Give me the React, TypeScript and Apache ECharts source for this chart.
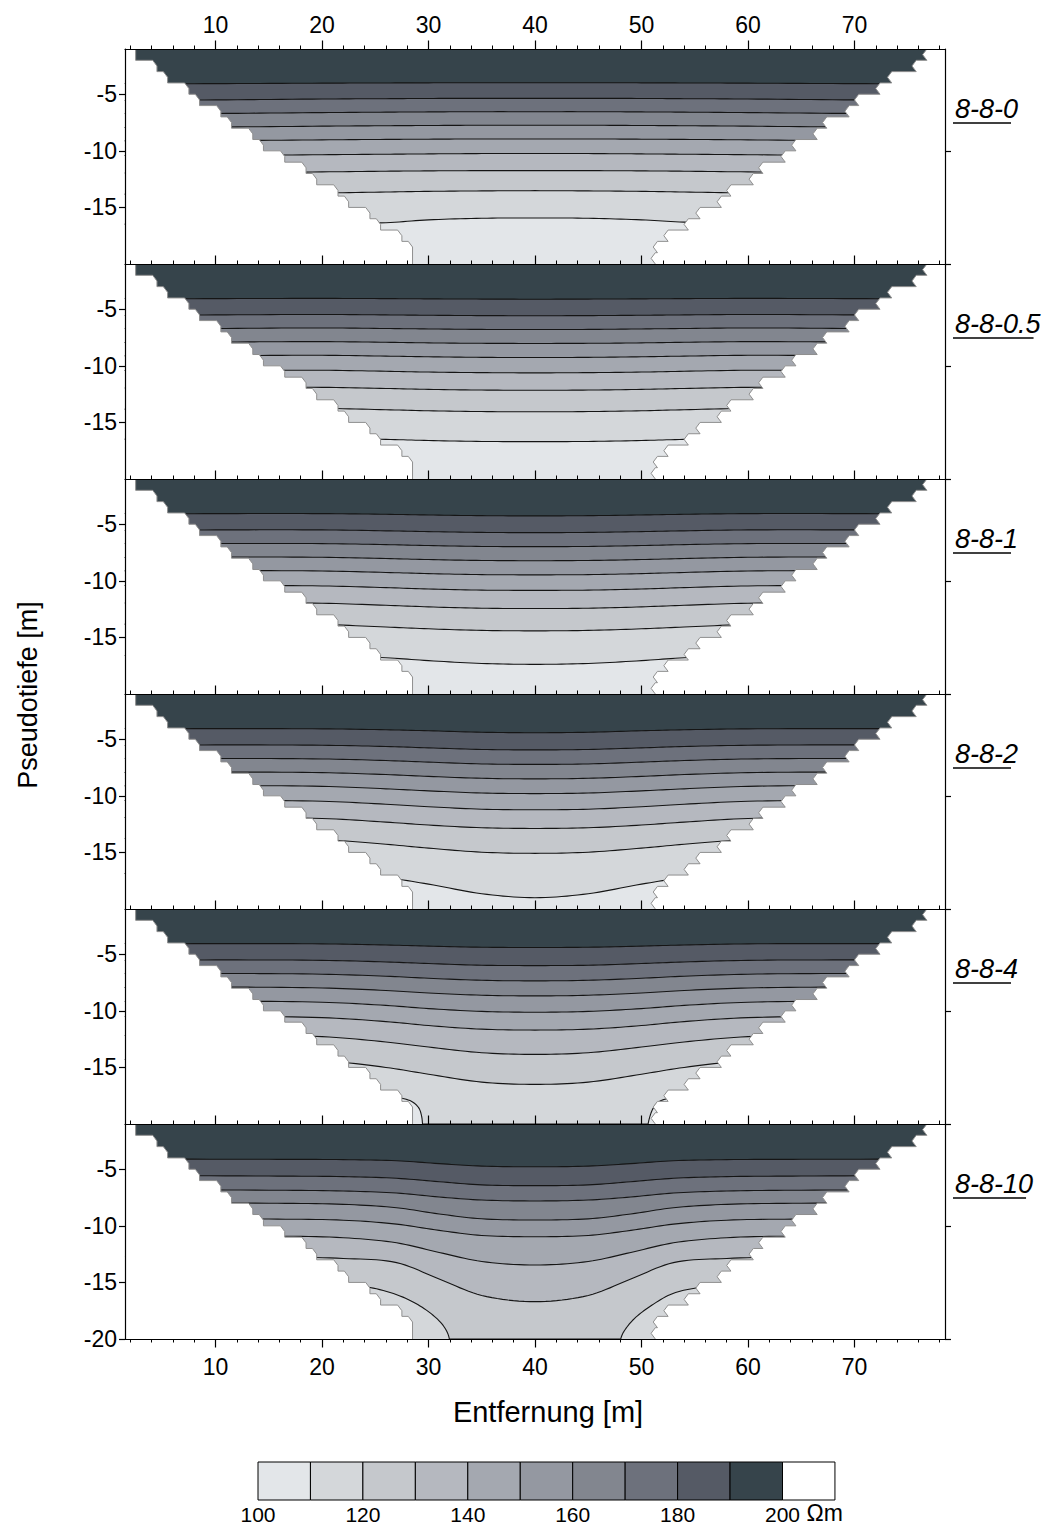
import React, { useEffect, useRef } from "react";
import * as echarts from "echarts";

const FONT = "'Liberation Sans', Arial, Helvetica, sans-serif";

// ---------------- data ----------------
const panelNames = ["8-8-0", "8-8-0.5", "8-8-1", "8-8-2", "8-8-4", "8-8-10"];
const bandColors = ["#e3e6e9", "#d4d7da", "#c5c8cc", "#b5b8bf", "#a4a8b0", "#9498a1", "#82868f", "#6d717c", "#555a65", "#36444b", "#ffffff"];
const bandStart = [100, 110, 120, 130, 140, 150, 160, 170, 180, 190, 200];
const colorbarLabels = ["100", "120", "140", "160", "180", "200"];
const unitLabel = "Ωm";
const xRange = [1.5, 78.5];
const yRange = [-20, -1];
const xMajorTicks = [10, 20, 30, 40, 50, 60, 70];
const xMinorTicks = [2, 4, 6, 8, 12, 14, 16, 18, 22, 24, 26, 28, 32, 34, 36, 38, 42, 44, 46, 48, 52, 54, 56, 58, 62, 64, 66, 68, 72, 74, 76, 78];
const yTickValues = [-5, -10, -15];
const yTickValuesLast = [-5, -10, -15, -20];
const yRightTicks = [-10, -20];

// data hull (blanking) of the pseudosection
const hullLeftX = [2.5, 4.5, 5.5, 7.5, 8.5, 10.5, 11.5, 13.5, 14.5, 16.5, 18.5, 19.5, 21.5, 22.5, 24.5, 25.5, 27.5, 28.5];
const hullLeftDepth = [-1, -2, -3, -4, -5, -6, -7, -8, -9, -10, -11, -12, -13, -14, -15, -16, -17, -18, -20];
const hullRightX = [76.4, 75.4, 73.1, 72.0, 70.0, 69.1, 67.0, 66.1, 64.1, 63.1, 61.0, 60.1, 58.0, 57.1, 55.1, 54.0, 52.1, 51.1, 50.9];
const hullRightDepth = [-1, -2, -3, -4, -5, -6, -7, -8, -9, -10, -11, -12, -13, -14, -15, -16, -17, -18, -19, -20];

// contour lines (depth at sample distances), levels low -> high
const levelsAll = [110, 120, 130, 140, 150, 160, 170, 180, 190];
const xsA = [0, 10, 20, 26, 30, 35, 40, 45, 50, 54, 60, 70, 80];
const xsB = [0, 15, 22, 27, 31, 35, 40, 45, 49, 53, 58, 65, 80];

const p1Depths = [
  [-16.5, -16.48, -16.45, -16.35, -16.1, -15.96, -15.93, -15.96, -16.1, -16.3, -16.4, -16.45, -16.5],
  [-13.85, -13.8, -13.72, -13.64, -13.58, -13.54, -13.52, -13.54, -13.58, -13.64, -13.72, -13.8, -13.85],
  [-11.98, -11.94, -11.86, -11.8, -11.77, -11.75, -11.75, -11.75, -11.77, -11.8, -11.86, -11.94, -11.98],
  [-10.45, -10.42, -10.34, -10.3, -10.27, -10.24, -10.23, -10.24, -10.27, -10.3, -10.34, -10.42, -10.45],
  [-9.15, -9.1, -9.03, -8.99, -8.97, -8.95, -8.95, -8.95, -8.97, -8.99, -9.03, -9.1, -9.15],
  [-7.95, -7.9, -7.82, -7.78, -7.76, -7.74, -7.74, -7.74, -7.76, -7.78, -7.82, -7.9, -7.95],
  [-6.75, -6.7, -6.62, -6.58, -6.56, -6.54, -6.54, -6.54, -6.56, -6.58, -6.62, -6.7, -6.75],
  [-5.55, -5.5, -5.42, -5.39, -5.37, -5.36, -5.36, -5.36, -5.37, -5.39, -5.42, -5.5, -5.55],
  [-4.1, -4.06, -4.02, -4.0, -3.99, -3.98, -3.98, -3.98, -3.99, -4.0, -4.02, -4.06, -4.1],
];
const p2Depths = [
  [-16.5, -16.48, -16.45, -16.5, -16.6, -16.68, -16.7, -16.68, -16.6, -16.5, -16.45, -16.48, -16.5],
  [-13.85, -13.8, -13.76, -13.88, -13.97, -14.04, -14.06, -14.04, -13.97, -13.88, -13.76, -13.8, -13.85],
  [-11.98, -11.94, -11.9, -12.0, -12.08, -12.14, -12.16, -12.14, -12.08, -12.0, -11.9, -11.94, -11.98],
  [-10.45, -10.42, -10.39, -10.48, -10.55, -10.6, -10.62, -10.6, -10.55, -10.48, -10.39, -10.42, -10.45],
  [-9.15, -9.1, -9.07, -9.14, -9.2, -9.25, -9.26, -9.25, -9.2, -9.14, -9.07, -9.1, -9.15],
  [-7.95, -7.9, -7.86, -7.92, -7.97, -8.01, -8.02, -8.01, -7.97, -7.92, -7.86, -7.9, -7.95],
  [-6.75, -6.7, -6.65, -6.7, -6.74, -6.78, -6.79, -6.78, -6.74, -6.7, -6.65, -6.7, -6.75],
  [-5.55, -5.5, -5.46, -5.5, -5.53, -5.56, -5.57, -5.56, -5.53, -5.5, -5.46, -5.5, -5.55],
  [-4.1, -4.06, -4.04, -4.06, -4.08, -4.1, -4.11, -4.1, -4.08, -4.06, -4.04, -4.06, -4.1],
];
const p3Depths = [
  [-16.6, -16.58, -16.6, -16.8, -17.05, -17.3, -17.38, -17.3, -17.05, -16.8, -16.6, -16.58, -16.6],
  [-13.85, -13.8, -13.86, -14.08, -14.24, -14.38, -14.42, -14.38, -14.24, -14.08, -13.86, -13.8, -13.85],
  [-11.98, -11.94, -11.98, -12.16, -12.3, -12.42, -12.45, -12.42, -12.3, -12.16, -11.98, -11.94, -11.98],
  [-10.45, -10.42, -10.45, -10.6, -10.72, -10.82, -10.84, -10.82, -10.72, -10.6, -10.45, -10.42, -10.45],
  [-9.15, -9.1, -9.13, -9.26, -9.36, -9.45, -9.47, -9.45, -9.36, -9.26, -9.13, -9.1, -9.15],
  [-7.95, -7.9, -7.92, -8.03, -8.12, -8.2, -8.22, -8.2, -8.12, -8.03, -7.92, -7.9, -7.95],
  [-6.75, -6.7, -6.71, -6.8, -6.88, -6.96, -6.98, -6.96, -6.88, -6.8, -6.71, -6.7, -6.75],
  [-5.55, -5.5, -5.5, -5.58, -5.65, -5.72, -5.74, -5.72, -5.65, -5.58, -5.5, -5.5, -5.55],
  [-4.1, -4.06, -4.06, -4.12, -4.18, -4.24, -4.26, -4.24, -4.18, -4.12, -4.06, -4.06, -4.1],
];
const p4Depths = [
  [-16.9, -16.85, -16.95, -17.25, -17.8, -18.65, -19.0, -18.65, -17.8, -17.25, -16.95, -16.85, -16.9],
  [-13.8, -13.76, -13.86, -14.28, -14.62, -14.98, -15.08, -14.98, -14.62, -14.28, -13.86, -13.76, -13.8],
  [-11.95, -11.92, -12.0, -12.32, -12.58, -12.82, -12.88, -12.82, -12.58, -12.32, -12.0, -11.92, -11.95],
  [-10.45, -10.4, -10.48, -10.74, -10.96, -11.18, -11.23, -11.18, -10.96, -10.74, -10.48, -10.4, -10.45],
  [-9.15, -9.1, -9.16, -9.38, -9.56, -9.75, -9.8, -9.75, -9.56, -9.38, -9.16, -9.1, -9.15],
  [-7.95, -7.9, -7.95, -8.12, -8.28, -8.45, -8.5, -8.45, -8.28, -8.12, -7.95, -7.9, -7.95],
  [-6.75, -6.7, -6.74, -6.88, -7.02, -7.18, -7.22, -7.18, -7.02, -6.88, -6.74, -6.7, -6.75],
  [-5.55, -5.5, -5.53, -5.64, -5.76, -5.9, -5.94, -5.9, -5.76, -5.64, -5.53, -5.5, -5.55],
  [-4.1, -4.06, -4.08, -4.16, -4.25, -4.38, -4.42, -4.38, -4.25, -4.16, -4.08, -4.06, -4.1],
];
const p5Levels = [120, 130, 140, 150, 160, 170, 180, 190];
const p5Depths = [
  [-14.3, -14.25, -14.4, -15.0, -15.6, -16.3, -16.5, -16.3, -15.6, -15.0, -14.4, -14.25, -14.3],
  [-12.2, -12.15, -12.28, -12.75, -13.2, -13.7, -13.85, -13.7, -13.2, -12.75, -12.28, -12.15, -12.2],
  [-10.55, -10.5, -10.6, -10.95, -11.3, -11.62, -11.7, -11.62, -11.3, -10.95, -10.6, -10.5, -10.55],
  [-9.2, -9.15, -9.24, -9.52, -9.8, -10.05, -10.12, -10.05, -9.8, -9.52, -9.24, -9.15, -9.2],
  [-7.95, -7.9, -7.98, -8.2, -8.42, -8.62, -8.68, -8.62, -8.42, -8.2, -7.98, -7.9, -7.95],
  [-6.75, -6.7, -6.76, -6.94, -7.12, -7.3, -7.35, -7.3, -7.12, -6.94, -6.76, -6.7, -6.75],
  [-5.55, -5.5, -5.54, -5.68, -5.82, -5.97, -6.0, -5.97, -5.82, -5.68, -5.54, -5.5, -5.55],
  [-4.1, -4.06, -4.08, -4.18, -4.28, -4.38, -4.4, -4.38, -4.28, -4.18, -4.08, -4.06, -4.1],
];
const p5Corner110 = [
  [0, -17.3], [15, -17.35], [22, -17.45], [26, -17.6], [27.6, -17.75], [28.5, -18.05], [29.1, -18.6], [29.35, -19.3],
  [29.45, -20.1], [29.6, -21.5], [40, -22], [50.4, -21.5], [50.6, -20.1], [50.8, -19.3], [51.1, -18.6], [51.6, -18.05],
  [52.5, -17.75], [54, -17.6], [58, -17.45], [65, -17.35], [80, -17.3],
];
const p6Levels = [130, 140, 150, 160, 170, 180, 190];
const p6Depths = [
  [-12.7, -12.75, -12.88, -13.25, -14.7, -16.15, -16.7, -16.15, -14.7, -13.25, -12.88, -12.75, -12.7],
  [-10.85, -10.9, -11.05, -11.5, -12.35, -13.15, -13.46, -13.15, -12.35, -11.5, -11.05, -10.9, -10.85],
  [-9.35, -9.4, -9.5, -9.85, -10.4, -10.85, -10.96, -10.85, -10.4, -9.85, -9.5, -9.4, -9.35],
  [-7.95, -8.0, -8.1, -8.4, -8.95, -9.38, -9.48, -9.38, -8.95, -8.4, -8.1, -8.0, -7.95],
  [-6.8, -6.85, -6.92, -7.1, -7.45, -7.72, -7.8, -7.72, -7.45, -7.1, -6.92, -6.85, -6.8],
  [-5.55, -5.6, -5.65, -5.8, -6.1, -6.38, -6.45, -6.38, -6.1, -5.8, -5.65, -5.6, -5.55],
  [-4.1, -4.12, -4.15, -4.25, -4.5, -4.72, -4.78, -4.72, -4.5, -4.25, -4.15, -4.12, -4.1],
];
const p6Corner120 = [
  [0, -15.2], [15, -15.25], [22, -15.3], [24.5, -15.45], [27.6, -16.3], [29.8, -17.45], [31.2, -18.6], [31.8, -19.5],
  [32.0, -20.2], [32.2, -21.5], [40, -22], [47.8, -21.5], [48.0, -20.2], [48.25, -19.5], [49.2, -18.32], [50.76, -17.15],
  [52.96, -15.97], [55.5, -15.45], [58, -15.3], [65, -15.25], [80, -15.2],
];

// ---------------- layout constants ----------------
const GRID_LEFT = 125;
const GRID_WIDTH = 820;
const TOP0 = 49;
const PANEL_H = 215;
const TICK_FONT = 23;

// ---------------- helpers ----------------
const zipLine = (xs: number[], ds: number[]) => xs.map((x, i) => [x, ds[i]]);

const panels = [
  { base: 0, lines: levelsAll.map((lv, i) => ({ level: lv, pts: zipLine(xsA, p1Depths[i]) })) },
  { base: 0, lines: levelsAll.map((lv, i) => ({ level: lv, pts: zipLine(xsA, p2Depths[i]) })) },
  { base: 0, lines: levelsAll.map((lv, i) => ({ level: lv, pts: zipLine(xsA, p3Depths[i]) })) },
  { base: 0, lines: levelsAll.map((lv, i) => ({ level: lv, pts: zipLine(xsA, p4Depths[i]) })) },
  { base: 0, lines: [{ level: 110, pts: p5Corner110 }, ...p5Levels.map((lv, i) => ({ level: lv, pts: zipLine(xsA, p5Depths[i]) }))] },
  { base: 1, lines: [{ level: 120, pts: p6Corner120 }, ...p6Levels.map((lv, i) => ({ level: lv, pts: zipLine(xsB, p6Depths[i]) }))] },
];

function leftHullPts() {
  const pts: number[][] = [[hullLeftX[0], hullLeftDepth[0]]];
  for (let k = 0; k < hullLeftX.length; k++) {
    const x = hullLeftX[k];
    const top = hullLeftDepth[k];
    const bot = hullLeftDepth[k + 1];
    if (k > 0) {
      pts.push([x - 0.4, top]);
      pts.push([x, top - 0.5]);
    }
    pts.push([x, bot]);
  }
  return pts;
}
function rightHullPts() {
  const pts: number[][] = [];
  for (let k = 0; k < hullRightX.length; k++) {
    const r = hullRightX[k];
    const top = hullRightDepth[k];
    const bot = hullRightDepth[k + 1];
    pts.push([r + 0.4, top]);
    pts.push([r, (top + bot) / 2]);
    pts.push([r + 0.4, bot]);
  }
  return pts;
}
const leftHull = leftHullPts();
const rightHull = rightHullPts();

function lerp(a: number[], b: number[], ta: number, tb: number, t: number) {
  const u = (tb - t) / (tb - ta);
  const v = (t - ta) / (tb - ta);
  return [a[0] * u + b[0] * v, a[1] * u + b[1] * v];
}
function smooth(pts: number[][], seg = 10) {
  if (pts.length < 3) return pts;
  const d = (a: number[], b: number[]) => Math.max(Math.sqrt(Math.hypot(b[0] - a[0], b[1] - a[1])), 1e-4);
  const out: number[][] = [pts[0]];
  for (let i = 0; i < pts.length - 1; i++) {
    const p1 = pts[i];
    const p2 = pts[i + 1];
    const p0 = i > 0 ? pts[i - 1] : [2 * p1[0] - p2[0], 2 * p1[1] - p2[1]];
    const p3 = i + 2 < pts.length ? pts[i + 2] : [2 * p2[0] - p1[0], 2 * p2[1] - p1[1]];
    const t0 = 0;
    const t1 = t0 + d(p0, p1);
    const t2 = t1 + d(p1, p2);
    const t3 = t2 + d(p2, p3);
    for (let k = 1; k <= seg; k++) {
      const t = t1 + ((t2 - t1) * k) / seg;
      const A1 = lerp(p0, p1, t0, t1, t);
      const A2 = lerp(p1, p2, t1, t2, t);
      const A3 = lerp(p2, p3, t2, t3, t);
      const B1 = lerp(A1, A2, t0, t2, t);
      const B2 = lerp(A2, A3, t1, t3, t);
      out.push(lerp(B1, B2, t1, t2, t));
    }
  }
  return out;
}

function makeRenderItem(panel: any) {
  return (params: any, api: any) => {
    const cs = params.coordSys;
    const x0 = cs.x;
    const y0 = cs.y;
    const x1 = cs.x + cs.width;
    const y1 = cs.y + cs.height;
    const clamp = (p: number[]) => [Math.min(x1, Math.max(x0, p[0])), Math.min(y1, Math.max(y0, p[1]))];
    const px = (p: number[]) => api.coord(p);
    const children: any[] = [];
    children.push({ type: "rect", shape: { x: x0, y: y0, width: cs.width, height: cs.height }, style: { fill: bandColors[panel.base] } });
    const sorted = [...panel.lines].sort((a: any, b: any) => a.level - b.level);
    const curves = sorted.map((l: any) => smooth(l.pts.map(px)).map(clamp));
    sorted.forEach((l: any, idx: number) => {
      const c = curves[idx];
      const ci = bandStart.indexOf(l.level);
      children.push({ type: "polygon", shape: { points: [...c, [x1, y0], [x0, y0]] }, style: { fill: bandColors[ci] } });
    });
    curves.forEach((c: number[][]) => {
      children.push({ type: "polyline", shape: { points: c }, style: { stroke: "#151515", lineWidth: 1.1, fill: "none" } });
    });
    const L = leftHull.map(px).map(clamp);
    const R = rightHull.map(px).map(clamp);
    children.push({ type: "polygon", shape: { points: [[x0, y0], ...L, [x0, y1]] }, style: { fill: "#ffffff" } });
    children.push({ type: "polygon", shape: { points: [[x1, y0], ...R, [x1, y1]] }, style: { fill: "#ffffff" } });
    children.push({ type: "polyline", shape: { points: L }, style: { stroke: "#8f8f8f", lineWidth: 1, fill: "none" } });
    children.push({ type: "polyline", shape: { points: R }, style: { stroke: "#8f8f8f", lineWidth: 1, fill: "none" } });
    return { type: "group", children };
  };
}

const axisLineStyle = { color: "#000", width: 1.2 };
const labelStyle = { fontSize: TICK_FONT, color: "#000", fontFamily: FONT };

function mainXAxis(i: number, position: string, inside: boolean, showLabel: boolean) {
  return {
    type: "value", gridIndex: i, position, min: xRange[0], max: xRange[1], z: 10,
    axisLine: { show: true, onZero: false, lineStyle: axisLineStyle },
    axisTick: { show: true, inside, length: 8.5, customValues: xMajorTicks, lineStyle: { color: "#000", width: 1.2 } },
    axisLabel: { show: showLabel, customValues: xMajorTicks, margin: position === "top" ? 13 : 16, ...labelStyle },
    splitLine: { show: false },
  };
}
function minorXAxis(i: number, position: string, inside: boolean) {
  return {
    type: "value", gridIndex: i, position, min: xRange[0], max: xRange[1], z: 10,
    axisLine: { show: false, onZero: false },
    axisTick: { show: true, inside, length: 3.5, customValues: xMinorTicks, lineStyle: { color: "#000", width: 1 } },
    axisLabel: { show: false },
    splitLine: { show: false },
  };
}

export default function App() {
  const ref = useRef<HTMLDivElement>(null);
  useEffect(() => {
    document.body.style.margin = "0";
    if (!ref.current) return;
    const chart = echarts.init(ref.current, undefined, { renderer: "svg" });
    const tops = panels.map((_, i) => TOP0 + i * PANEL_H);

    const xAxis: any[] = [];
    panels.forEach((_, i) => xAxis.push(mainXAxis(i, "bottom", i < 5, i === 5)));
    panels.forEach((_, i) => xAxis.push(minorXAxis(i, "bottom", i < 5)));
    xAxis.push(mainXAxis(0, "top", false, true));
    xAxis.push(minorXAxis(0, "top", false));

    const yAxis: any[] = [];
    panels.forEach((_, i) => {
      const ticks = i === 5 ? yTickValuesLast : yTickValues;
      yAxis.push({
        type: "value", gridIndex: i, position: "left", min: yRange[0], max: yRange[1], z: 10,
        axisLine: { show: true, onZero: false, lineStyle: axisLineStyle },
        axisTick: { show: true, inside: false, length: 6, customValues: ticks, lineStyle: { color: "#000", width: 1.2 } },
        axisLabel: { show: true, customValues: ticks, margin: 8, ...labelStyle },
        splitLine: { show: false },
      });
    });
    panels.forEach((_, i) => {
      yAxis.push({
        type: "value", gridIndex: i, position: "right", min: yRange[0], max: yRange[1], z: 10,
        axisLine: { show: true, onZero: false, lineStyle: axisLineStyle },
        axisTick: { show: true, inside: false, length: 6, customValues: yRightTicks, lineStyle: { color: "#000", width: 1.2 } },
        axisLabel: { show: false },
        splitLine: { show: false },
      });
    });

    const ctx = document.createElement("canvas").getContext("2d") as CanvasRenderingContext2D;
    const nameFontSize = 27;
    ctx.font = `italic ${nameFontSize}px ${FONT}`;

    const graphic: any[] = [];
    panelNames.forEach((name, i) => {
      const w = ctx.measureText(name).width;
      graphic.push({
        type: "text", x: 955, y: tops[i] + 59.5, z: 20,
        style: { text: name, fill: "#000", font: `italic ${nameFontSize}px ${FONT}`, align: "left", verticalAlign: "middle", textAlign: "left", textVerticalAlign: "middle" },
      });
      graphic.push({
        type: "line", z: 20,
        shape: { x1: 953, y1: tops[i] + 74, x2: 953 + w - 5, y2: tops[i] + 74 },
        style: { stroke: "#000", lineWidth: 1.4 },
      });
    });
    graphic.push({
      type: "text", x: 28, y: 695, rotation: Math.PI / 2, z: 20,
      style: { text: "Pseudotiefe [m]", fill: "#000", font: `27px ${FONT}`, align: "center", verticalAlign: "middle", textAlign: "center", textVerticalAlign: "middle" },
    });
    graphic.push({
      type: "text", x: 548, y: 1412, z: 20,
      style: { text: "Entfernung [m]", fill: "#000", font: `29px ${FONT}`, align: "center", verticalAlign: "middle", textAlign: "center", textVerticalAlign: "middle" },
    });
    // colour bar
    const cbX = 258, cbY = 1462, cbW = 52.45, cbH = 38;
    bandColors.forEach((c, i) => {
      graphic.push({
        type: "rect", z: 20,
        shape: { x: cbX + i * cbW, y: cbY, width: cbW, height: cbH },
        style: { fill: c, stroke: "#000", lineWidth: 1 },
      });
    });
    colorbarLabels.forEach((t, j) => {
      graphic.push({
        type: "text", x: cbX + j * 2 * cbW, y: 1514, z: 20,
        style: { text: t, fill: "#000", font: `21px ${FONT}`, align: "center", verticalAlign: "middle", textAlign: "center", textVerticalAlign: "middle" },
      });
    });
    graphic.push({
      type: "text", x: cbX + 10 * cbW + 24, y: 1513, z: 20,
      style: { text: unitLabel, fill: "#000", font: `23px ${FONT}`, align: "left", verticalAlign: "middle", textAlign: "left", textVerticalAlign: "middle" },
    });

    const option: any = {
      animation: false,
      backgroundColor: "#ffffff",
      grid: tops.map((t) => ({ left: GRID_LEFT, top: t, width: GRID_WIDTH, height: PANEL_H })),
      xAxis,
      yAxis,
      series: panels.map((p, i) => ({
        type: "custom", coordinateSystem: "cartesian2d", xAxisIndex: i, yAxisIndex: i,
        data: [[40, -10]], renderItem: makeRenderItem(p), silent: true, z: 2, animation: false,
      })),
      graphic,
    };
    chart.setOption(option);
    return () => chart.dispose();
  }, []);
  return <div ref={ref} style={{ width: 1060, height: 1529 }} />;
}
